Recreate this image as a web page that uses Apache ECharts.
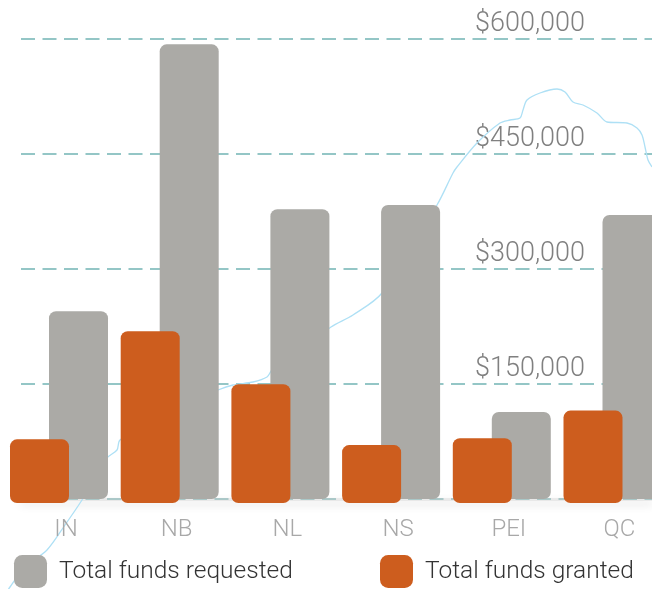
<!DOCTYPE html>
<html>
<head>
<meta charset="utf-8">
<script src="https://cdn.jsdelivr.net/npm/echarts@6/dist/echarts.min.js"></script>
<style>
html,body{margin:0;padding:0;background:#fff;}
#chart{width:652px;height:589px;}
</style>
</head>
<body>
<div id="chart"></div>
<script>
// ---- data ----
const categories = ['IN', 'NB', 'NL', 'NS', 'PEI', 'QC'];
const requested = [245000, 593000, 378000, 383500, 113500, 370500];
const granted = [83000, 224000, 155000, 75500, 84500, 120500];
const yMin = 0;
const yMax = 600000;
const yStep = 150000;
const seriesNames = ['Total funds requested', 'Total funds granted'];
// decorative background outline (light blue contour), in picture units
const outlinePath = [
  [5, 595], [10, 587], [25, 567], [47, 550], [65, 525], [82, 500], [95, 478],
  [107, 458], [117, 450], [120, 440], [160, 415], [218, 390], [233, 385],
  [253, 382], [267, 377], [272, 370], [331, 327], [353, 315], [382, 293],
  [437, 205], [453, 173], [457, 167], [477, 143], [500, 123], [510, 120],
  [520, 118], [523, 110], [527, 100], [540, 93], [557, 89], [565, 92],
  [573, 102], [583, 105], [597, 113], [607, 122], [627, 123], [637, 128],
  [642, 135], [645, 147], [648, 160], [652, 167]
];

const FONT = 'Roboto, "Liberation Sans", sans-serif';
const GREY = '#abaaa6';
const ORANGE = '#cd5d1e';
const fmtMoney = v => '$' + Number(v).toLocaleString('en-US');

const chart = echarts.init(document.getElementById('chart'));
const catW = 664.2;
const option = {
  backgroundColor: '#fff',
  animation: false,
  legend: [
    {
      left: 9, top: 550, itemWidth: 33, itemHeight: 33, icon: 'roundRect',
      data: [seriesNames[0]],
      textStyle: { fontFamily: FONT, fontWeight: 300, fontSize: 24.5, color: '#333', padding: [3, 0, 0, 7] }
    },
    {
      left: 375, top: 550, itemWidth: 33, itemHeight: 33, icon: 'roundRect',
      data: [seriesNames[1]],
      textStyle: { fontFamily: FONT, fontWeight: 300, fontSize: 24.5, color: '#333', padding: [3, 0, 0, 7] }
    }
  ],
  grid: [
    { left: 21, right: 0, top: 39, height: 460, outerBoundsMode: 'none' },          // 0: gridlines + y labels
    { left: 23.15, width: catW, top: 39, height: 460, outerBoundsMode: 'none' },    // 1: requested
    { left: -15.85, width: catW, top: 43, height: 460, outerBoundsMode: 'none' },   // 2: granted
    { left: 10.65, width: catW, top: 39, height: 460, outerBoundsMode: 'none' },    // 3: category labels
    { left: 0, top: 0, width: 652, height: 589, outerBoundsMode: 'none' }           // 4: decoration
  ],
  xAxis: [
    { gridIndex: 0, type: 'category', data: categories, show: true,
      axisLabel: { show: false }, axisTick: { show: false },
      axisLine: { show: true, lineStyle: { color: 'rgba(210,210,210,0.4)', width: 3, shadowColor: 'rgba(0,0,0,0.35)', shadowBlur: 8, shadowOffsetY: 4 } } },
    { gridIndex: 1, type: 'category', data: categories, show: false },
    { gridIndex: 2, type: 'category', data: categories, show: false },
    { gridIndex: 3, type: 'category', data: categories, z: 5,
      axisLine: { show: false }, axisTick: { show: false },
      axisLabel: { margin: 19, fontFamily: FONT, fontWeight: 300, fontSize: 24, color: '#a8a8a8' } },
    { gridIndex: 4, type: 'value', min: 0, max: 652, show: false }
  ],
  yAxis: [
    { gridIndex: 0, type: 'value', min: yMin, max: yMax, interval: yStep, position: 'right',
      axisLine: { show: false }, axisTick: { show: false },
      splitLine: { show: true, lineStyle: { color: '#94c6c6', width: 2, type: [14, 7.5] } },
      axisLabel: { inside: true, margin: 67, showMinLabel: false, verticalAlign: 'bottom', padding: [0, 0, 1, 0],
        hideOverlap: false, overflow: 'none',
        fontFamily: FONT, fontWeight: 300, fontSize: 27, color: '#808080', formatter: v => fmtMoney(v) } },
    { gridIndex: 1, type: 'value', min: yMin, max: yMax, show: false },
    { gridIndex: 2, type: 'value', min: yMin, max: yMax, show: false },
    { gridIndex: 3, type: 'value', min: yMin, max: yMax, show: false },
    { gridIndex: 4, type: 'value', min: 0, max: 589, inverse: true, show: false }
  ],
  series: [
    { type: 'line', xAxisIndex: 4, yAxisIndex: 4, data: outlinePath, smooth: 0.3, symbol: 'none', z: 1,
      lineStyle: { color: '#aee0f5', width: 1.3 }, silent: true },
    { name: seriesNames[0], type: 'bar', xAxisIndex: 1, yAxisIndex: 1, data: requested, barWidth: 59, z: 3,
      itemStyle: { color: GREY, borderRadius: 7 } },
    { name: seriesNames[1], type: 'bar', xAxisIndex: 2, yAxisIndex: 2, data: granted, barWidth: 59, z: 4,
      itemStyle: { color: ORANGE, borderRadius: 7 } }
  ]
};
chart.setOption(option);
</script>
</body>
</html>
